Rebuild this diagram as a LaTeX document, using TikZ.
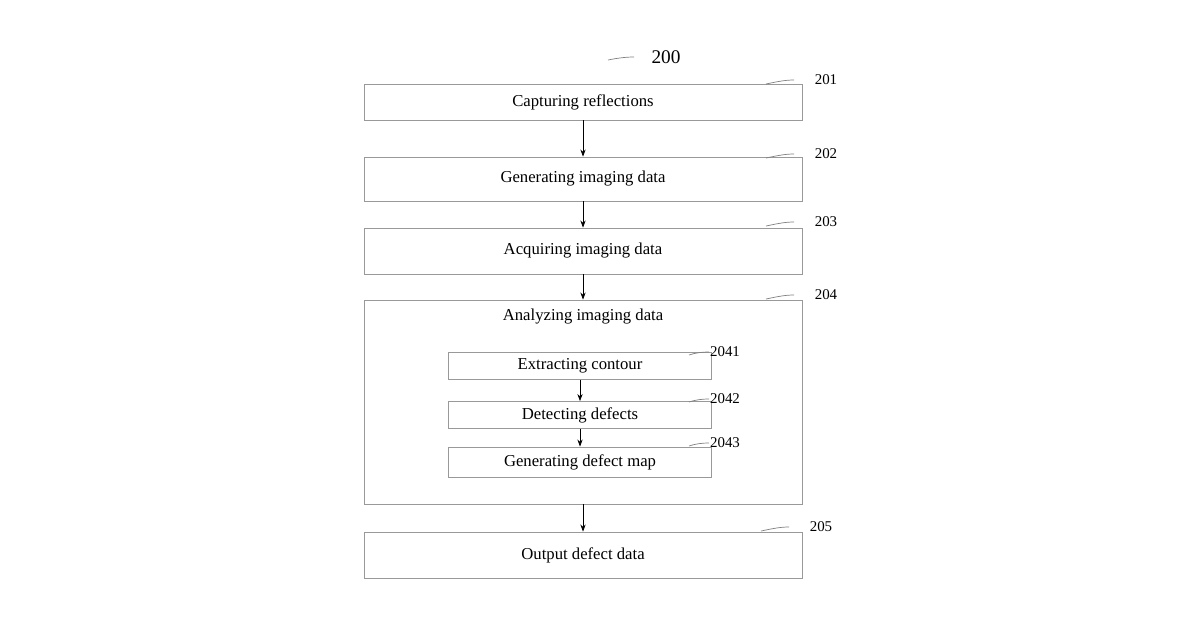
\documentclass[tikz,border=0pt]{standalone}
\usepackage{fontspec}
\setmainfont{Liberation Serif}
\usetikzlibrary{arrows.meta}
\tikzset{
  stage/.style={draw=gray!80, line width=0.5pt, minimum width=438*0.02cm, font=\fontsize{9.5}{11}\selectfont},
  substage/.style={draw=gray!80, line width=0.5pt, minimum width=263*0.02cm, font=\fontsize{9.5}{11}\selectfont},
  flow/.style={-{Stealth[length=4pt,width=3pt]}, line width=0.4pt},
  tag/.style={font=\fontsize{8.5}{10}\selectfont, inner sep=1pt},
  lead/.style={gray, line width=0.4pt}
}
\begin{document}
\begin{tikzpicture}[x=0.02cm,y=-0.02cm]
  \useasboundingbox (0,0) rectangle (1200,630);
  % main steps
  \node[stage, minimum height=36*0.02cm] (s201) at (583,102) {Capturing reflections};
  \node[stage, minimum height=44*0.02cm] (s202) at (583,179) {Generating imaging data};
  \node[stage, minimum height=46*0.02cm] (s203) at (583,251) {Acquiring imaging data};
  \node[stage, minimum height=204*0.02cm] (s204) at (583,402) {};
  \node[font=\fontsize{9.5}{11}\selectfont] (t204) at (583,316) {Analyzing imaging data};
  \node[stage, minimum height=46*0.02cm] (s205) at (583,555) {Output defect data};
  % sub steps
  \node[substage, minimum height=23*0.02cm] (s2041) at (580,366) {Extracting contour};
  \node[substage, minimum height=27*0.02cm] (s2042) at (580,415) {Detecting defects};
  \node[substage, minimum height=30*0.02cm] (s2043) at (580,462) {Generating defect map};
  % arrows
  \draw[flow] (s201) -- (s202);
  \draw[flow] (s202) -- (s203);
  \draw[flow] (s203) -- (s204);
  \draw[flow] (s204) -- (s205);
  \draw[flow] (s2041) -- (s2042);
  \draw[flow] (s2042) -- (s2043);
  % reference numerals
  \node[tag, font=\fontsize{11}{12}\selectfont] (n200) at (666,57) {200};
  \draw[lead] (608,60) .. controls (618,58) and (626,57) .. (634,57);
  \foreach \n/\x/\y in {201/826/80, 202/826/154, 203/826/222, 204/826/295, 205/821/527} {
    \node[tag] (n\n) at (\x,\y) {\n};
    \draw[lead] (\x-60,\y+4) .. controls (\x-50,\y+2) and (\x-42,\y) .. (\x-32,\y);
  }
  \foreach \n/\x/\y in {2041/725/352, 2042/725/399, 2043/725/443} {
    \node[tag] (n\n) at (\x,\y) {\n};
    \draw[lead] (\x-36,\y+3) .. controls (\x-30,\y+1) and (\x-24,\y) .. (\x-16,\y);
  }
\end{tikzpicture}
\end{document}
